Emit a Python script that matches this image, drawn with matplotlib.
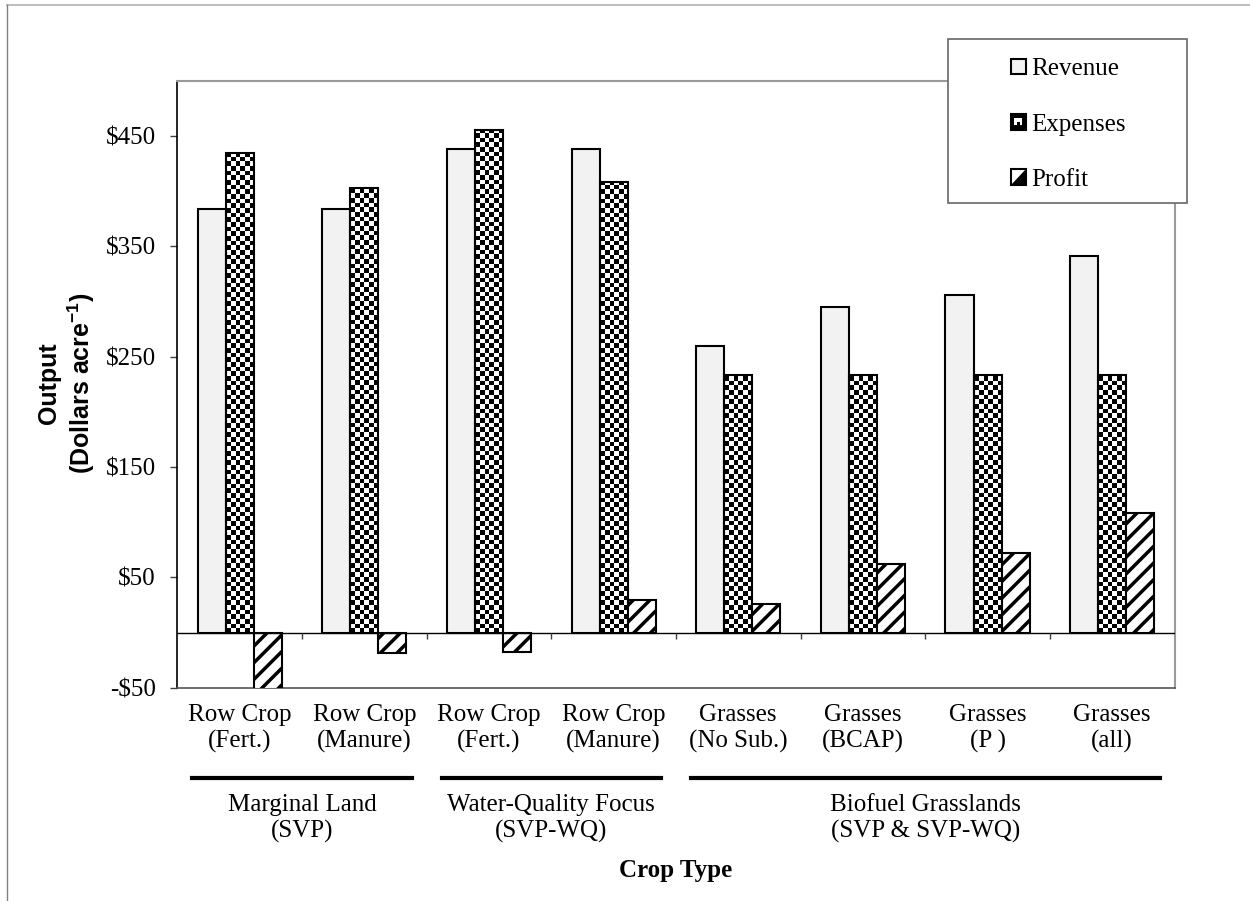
"""
Revenue, expenses and profit per crop type, grouped by scenario (clustered bars).
"""
import numpy as np
import matplotlib
matplotlib.use("Agg")                                  # no display, just write the png
import matplotlib.pyplot as plt
import matplotlib.transforms as mtransforms
from matplotlib.patches import Rectangle, Polygon, Patch
from matplotlib.lines import Line2D
from matplotlib.legend_handler import HandlerBase
from matplotlib.ticker import FuncFormatter

categories = ["Row Crop\n(Fert.)", "Row Crop\n(Manure)", "Row Crop\n(Fert.)", "Row Crop\n(Manure)",
              "Grasses\n(No Sub.)", "Grasses\n(BCAP)", "Grasses\n(P )", "Grasses\n(all)"]
groups = ["Marginal Land\n(SVP)", "Water-Quality Focus\n(SVP-WQ)", "Biofuel Grasslands\n(SVP & SVP-WQ)"]
group_spans = [(0, 2), (2, 4), (4, 8)]
series = ["Revenue", "Expenses", "Profit"]

revenue = [383.6, 383.6, 438.0, 438.4, 259.5, 295.0, 305.6, 341.5]
expenses = [434.9, 402.6, 455.4, 408.6, 233.5, 233.5, 233.5, 233.5]
profit = [-51.3, -19.0, -17.5, 29.6, 25.9, 61.7, 72.0, 108.0]

yticks = [-50, 50, 150, 250, 350, 450]

W, H = 1250, 901
plt.rcParams["font.family"] = ["Liberation Serif", "DejaVu Serif"]
plt.rcParams["font.size"] = 18
plt.rcParams["hatch.linewidth"] = 2.5
plt.rcParams["mathtext.fontset"] = "custom"
plt.rcParams["mathtext.bf"] = "Liberation Sans:bold"
plt.rcParams["mathtext.rm"] = "Liberation Sans"


def checker(ax, bar, cell_x, cell_y):
    """Fill a bar with a black/white checkerboard, clipped to the bar."""
    x0, y0, w, h = bar.get_x(), bar.get_y(), bar.get_width(), bar.get_height()
    nx = int(round(w / cell_x))
    ny = int(np.ceil(h / cell_y))
    board = np.indices((ny, nx)).sum(axis=0) % 2
    im = ax.imshow(board, cmap="gray", vmin=0, vmax=1, origin="lower", interpolation="nearest",
                   extent=(x0, x0 + w, y0, y0 + ny * cell_y), aspect="auto", zorder=2)
    im.set_clip_path(bar)


class Swatch(HandlerBase):
    """Small legend squares drawn like the original's shrunken patterns."""
    def __init__(self, kind):
        super().__init__()
        self.kind = kind

    def create_artists(self, legend, orig_handle, xdescent, ydescent, width, height, fontsize, trans):
        x0, y0 = -xdescent, -ydescent
        arts = []
        if self.kind == "Revenue":
            arts.append(Rectangle((x0, y0), width, height, fc="#F2F2F2", ec="black", lw=1.5, transform=trans))
        elif self.kind == "Expenses":
            arts.append(Rectangle((x0, y0), width, height, fc="black", ec="black", lw=1.5, transform=trans))
            arts.append(Rectangle((x0 + 0.22 * width, y0 + 0.3 * height), 0.56 * width, 0.42 * height,
                                  fc="white", ec="none", transform=trans))
            arts.append(Rectangle((x0 + 0.4 * width, y0 + 0.3 * height), 0.2 * width, 0.2 * height,
                                  fc="black", ec="none", transform=trans))
        else:
            arts.append(Rectangle((x0, y0), width, height, fc="white", ec="black", lw=1.5, transform=trans))
            arts.append(Polygon([(x0 + width, y0 + height), (x0 + width, y0), (x0, y0)],
                                closed=True, fc="black", ec="none", transform=trans))
        return arts


fig = plt.figure(figsize=(W / 100, H / 100), dpi=100)
ax = fig.add_axes([177.3 / W, 1 - 687.7 / H, (1174.5 - 177.3) / W, (687.7 - 80.7) / H])

x = np.arange(len(categories)) + 0.5
bw = 0.225
ax.bar(x - bw, revenue, bw, color="#F2F2F2", edgecolor="black", linewidth=1.5, zorder=3)
exp_bars = ax.bar(x, expenses, bw, facecolor="none", edgecolor="black", linewidth=1.5, zorder=3)
ax.bar(x + bw, profit, bw, facecolor="white", edgecolor="black", hatch="//", linewidth=1.5, zorder=3)

px_per_unit = (687.7 - 80.7) / 550.0
for b in exp_bars:
    checker(ax, b, bw / 6, 4.67 / px_per_unit)

ax.axhline(0, color="black", lw=1.0, zorder=4)
# small category-boundary ticks hanging under the zero line
tick_len = 6 / px_per_unit
ax.vlines(np.arange(1, len(categories)), -tick_len, 0, color="#404040", lw=1.0, zorder=4)

ax.set_yticks(yticks)
ax.yaxis.set_major_formatter(FuncFormatter(lambda v, _: ("-" if v < 0 else "") + r"\$" + f"{abs(v):.0f}"))
ax.tick_params(axis="y", length=5, width=1, color="#404040", pad=10.5)
ax.set_xticks(x, categories)
ax.tick_params(axis="x", length=0, pad=12)

for side in ("top", "right"):
    ax.spines[side].set_color("#9A9A9A")
    ax.spines[side].set_linewidth(1.5)
ax.spines["left"].set_color("black")
ax.spines["left"].set_linewidth(1.2)
ax.spines["bottom"].set_color("#555555")
ax.spines["bottom"].set_linewidth(1.2)

# scenario underlines and labels below the category names
blend = mtransforms.blended_transform_factory(ax.transData, fig.transFigure)
for (a, b), name in zip(group_spans, groups):
    ax.add_line(Line2D([a + 0.12, b - 0.12], [1 - 778 / H] * 2, transform=blend,
                       color="black", lw=3, clip_on=False))
    ax.text((a + b) / 2, 1 - 818.5 / H, name, transform=blend, ha="center", va="center",
            linespacing=1.25)
ax.set_xlim(0, len(categories))
ax.set_ylim(-50, 500)

fig.text(675.7 / W, 1 - 870 / H, "Crop Type", ha="center", va="center", fontweight="bold")
fig.text(67 / W, 1 - 383 / H, "Output\n(Dollars acre$^{\\mathbf{-1}}$)", rotation=90,
         ha="center", va="center", multialignment="center", fontweight="bold",
         family=["Liberation Sans", "DejaVu Sans"], linespacing=1.15)

# legend box sits over the plot corner, like in the original
fig.add_artist(Rectangle((948 / W, 1 - 203 / H), 239 / W, 164 / H, transform=fig.transFigure,
                         fc="white", ec="#666666", lw=1.2, zorder=3))
handles = [Patch(label=s) for s in series]
fig.legend(handles=handles, labels=series, loc="center",
           bbox_to_anchor=(1068 / W, 1 - 124.5 / H), frameon=False,
           handlelength=0.6, handleheight=0.6, handletextpad=0.2, labelspacing=1.33,
           handler_map={h: Swatch(s) for h, s in zip(handles, series)})

# outer chart frame (top and left edges only are visible in the crop)
fig.add_artist(Line2D([7 / W, 1], [1 - 5 / H] * 2, transform=fig.transFigure, color="#BFBFBF", lw=1.5))
fig.add_artist(Line2D([7 / W] * 2, [0, 1 - 5 / H], transform=fig.transFigure, color="#808080", lw=1.0))

fig.savefig("out.png", dpi=100)
